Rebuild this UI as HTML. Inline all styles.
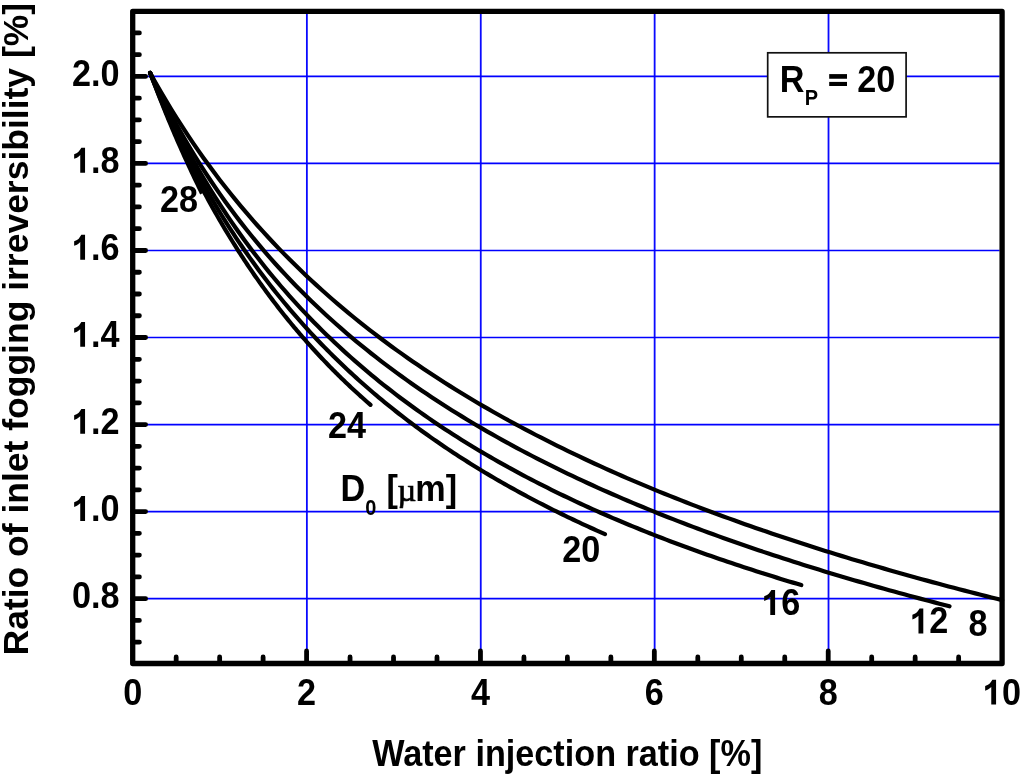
<!DOCTYPE html><html><head><meta charset="utf-8"><style>html,body{margin:0;padding:0;background:#fff;width:1024px;height:779px;overflow:hidden}svg{display:block;will-change:transform}text{font-family:"Liberation Sans",sans-serif;font-weight:bold;fill:#000}.h{fill-opacity:0}</style></head><body>
<svg width="1024" height="779" viewBox="0 0 1024 779">
<rect width="1024" height="779" fill="#fff"/>
<path d="M306.88 13.9V661.0M480.76 13.9V661.0M654.64 13.9V661.0M828.52 13.9V661.0" stroke="#0a0aff" stroke-width="1.8" fill="none"/>
<path d="M135.2 598.64H999.6M135.2 511.60H999.6M135.2 424.56H999.6M135.2 337.52H999.6M135.2 250.48H999.6M135.2 163.44H999.6M135.2 76.40H999.6" stroke="#0000ff" stroke-width="1.7" fill="none"/>
<path d="M150.09 72.92 155.45 82.52 160.81 91.85 166.16 100.92 171.52 109.75 176.88 118.35 182.24 126.73 187.60 134.89 192.96 142.85 198.32 150.62 203.67 158.20 209.03 165.60 214.39 172.83 219.75 179.90 225.11 186.80 230.47 193.56 235.83 200.17 241.18 206.64 246.54 212.97 251.90 219.17 257.26 225.25 262.62 231.21 267.98 237.04 273.34 242.77 278.69 248.38 284.05 253.89 289.41 259.30 294.77 264.61 300.13 269.82 305.49 274.94 310.84 279.96 316.20 284.90 321.56 289.76 326.92 294.53 332.28 299.23 337.64 303.84 343.00 308.38 348.35 312.85 353.71 317.25 359.07 321.58 364.43 325.84 369.79 330.03 375.15 334.16 380.51 338.23 385.86 342.24 391.22 346.19 396.58 350.08 401.94 353.91 407.30 357.69 412.66 361.42 418.02 365.10 423.37 368.72 428.73 372.30 434.09 375.83 439.45 379.31 444.81 382.74 450.17 386.13 455.53 389.48 460.88 392.78 466.24 396.04 471.60 399.26 476.96 402.44 482.32 405.58 487.68 408.68 493.04 411.74 498.39 414.77 503.75 417.76 509.11 420.72 514.47 423.64 519.83 426.52 525.19 429.38 530.55 432.20 535.90 434.99 541.26 437.74 546.62 440.47 551.98 443.17 557.34 445.84 562.70 448.47 568.06 451.08 573.41 453.67 578.77 456.22 584.13 458.75 589.49 461.25 594.85 463.73 600.21 466.18 605.57 468.60 610.92 471.00 616.28 473.38 621.64 475.73 627.00 478.06 632.36 480.37 637.72 482.65 643.08 484.91 648.43 487.16 653.79 489.37 659.15 491.57 664.51 493.75 669.87 495.91 675.23 498.04 680.59 500.16 685.94 502.26 691.30 504.34 696.66 506.40 702.02 508.44 707.38 510.47 712.74 512.47 718.10 514.46 723.45 516.43 728.81 518.38 734.17 520.32 739.53 522.24 744.89 524.15 750.25 526.03 755.61 527.91 760.96 529.76 766.32 531.60 771.68 533.43 777.04 535.24 782.40 537.04 787.76 538.82 793.12 540.59 798.47 542.34 803.83 544.08 809.19 545.81 814.55 547.52 819.91 549.22 825.27 550.90 830.63 552.58 835.98 554.24 841.34 555.88 846.70 557.52 852.06 559.14 857.42 560.75 862.78 562.35 868.14 563.94 873.49 565.51 878.85 567.07 884.21 568.63 889.57 570.17 894.93 571.70 900.29 573.21 905.65 574.72 911.00 576.22 916.36 577.71 921.72 579.18 927.08 580.65 932.44 582.10 937.80 583.55 943.16 584.98 948.51 586.41 953.87 587.83 959.23 589.23 964.59 590.63 969.95 592.02 975.31 593.40 980.67 594.76 986.02 596.13 991.38 597.48 996.74 598.82 1002.10 600.15" stroke="#000" stroke-width="4.2" fill="none" stroke-linecap="round" stroke-linejoin="round"/>
<path d="M150.09 72.92 155.12 83.44 160.14 93.62 165.17 103.48 170.20 113.04 175.23 122.30 180.25 131.29 185.28 140.03 190.31 148.51 195.34 156.76 200.37 164.79 205.39 172.61 210.42 180.22 215.45 187.64 220.48 194.87 225.50 201.93 230.53 208.82 235.56 215.54 240.59 222.11 245.62 228.54 250.64 234.81 255.67 240.95 260.70 246.96 265.73 252.84 270.75 258.60 275.78 264.24 280.81 269.76 285.84 275.17 290.87 280.48 295.89 285.69 300.92 290.80 305.95 295.81 310.98 300.73 316.00 305.56 321.03 310.30 326.06 314.96 331.09 319.53 336.11 324.03 341.14 328.45 346.17 332.80 351.20 337.08 356.23 341.28 361.25 345.42 366.28 349.49 371.31 353.50 376.34 357.44 381.36 361.33 386.39 365.15 391.42 368.92 396.45 372.63 401.48 376.29 406.50 379.89 411.53 383.45 416.56 386.95 421.59 390.40 426.61 393.81 431.64 397.16 436.67 400.48 441.70 403.75 446.73 406.97 451.75 410.15 456.78 413.29 461.81 416.39 466.84 419.45 471.86 422.48 476.89 425.46 481.92 428.41 486.95 431.32 491.98 434.19 497.00 437.03 502.03 439.84 507.06 442.61 512.09 445.35 517.11 448.06 522.14 450.74 527.17 453.39 532.20 456.01 537.23 458.59 542.25 461.15 547.28 463.69 552.31 466.19 557.34 468.66 562.36 471.11 567.39 473.54 572.42 475.94 577.45 478.31 582.48 480.66 587.50 482.98 592.53 485.28 597.56 487.56 602.59 489.81 607.61 492.04 612.64 494.25 617.67 496.44 622.70 498.61 627.72 500.75 632.75 502.88 637.78 504.98 642.81 507.06 647.84 509.13 652.86 511.17 657.89 513.20 662.92 515.21 667.95 517.20 672.97 519.17 678.00 521.12 683.03 523.06 688.06 524.98 693.09 526.88 698.11 528.77 703.14 530.63 708.17 532.49 713.20 534.32 718.22 536.15 723.25 537.95 728.28 539.74 733.31 541.52 738.34 543.28 743.36 545.02 748.39 546.76 753.42 548.47 758.45 550.18 763.47 551.87 768.50 553.54 773.53 555.21 778.56 556.86 783.59 558.50 788.61 560.12 793.64 561.73 798.67 563.33 803.70 564.92 808.72 566.49 813.75 568.06 818.78 569.61 823.81 571.15 828.84 572.68 833.86 574.19 838.89 575.70 843.92 577.19 848.95 578.68 853.97 580.15 859.00 581.61 864.03 583.06 869.06 584.51 874.08 585.94 879.11 587.36 884.14 588.77 889.17 590.17 894.20 591.56 899.22 592.95 904.25 594.32 909.28 595.68 914.31 597.04 919.33 598.38 924.36 599.72 929.39 601.05 934.42 602.37 939.45 603.68 944.47 604.98 949.50 606.27" stroke="#000" stroke-width="4.2" fill="none" stroke-linecap="round" stroke-linejoin="round"/>
<path d="M150.09 72.92 154.18 82.24 158.28 91.33 162.37 100.17 166.47 108.80 170.57 117.21 174.66 125.42 178.76 133.43 182.85 141.25 186.95 148.88 191.04 156.34 195.14 163.63 199.23 170.76 203.33 177.74 207.42 184.56 211.52 191.23 215.62 197.77 219.71 204.16 223.81 210.43 227.90 216.57 232.00 222.59 236.09 228.48 240.19 234.27 244.28 239.94 248.38 245.50 252.47 250.96 256.57 256.31 260.67 261.57 264.76 266.74 268.86 271.81 272.95 276.79 277.05 281.68 281.14 286.49 285.24 291.21 289.33 295.86 293.43 300.43 297.53 304.92 301.62 309.34 305.72 313.68 309.81 317.96 313.91 322.17 318.00 326.31 322.10 330.39 326.19 334.40 330.29 338.35 334.38 342.25 338.48 346.08 342.58 349.86 346.67 353.58 350.77 357.25 354.86 360.86 358.96 364.43 363.05 367.94 367.15 371.40 371.24 374.82 375.34 378.19 379.43 381.51 383.53 384.79 387.63 388.02 391.72 391.21 395.82 394.36 399.91 397.46 404.01 400.53 408.10 403.56 412.20 406.54 416.29 409.49 420.39 412.41 424.48 415.28 428.58 418.12 432.68 420.93 436.77 423.70 440.87 426.44 444.96 429.15 449.06 431.82 453.15 434.46 457.25 437.07 461.34 439.66 465.44 442.21 469.54 444.73 473.63 447.22 477.73 449.69 481.82 452.12 485.92 454.53 490.01 456.92 494.11 459.27 498.20 461.61 502.30 463.91 506.39 466.19 510.49 468.45 514.59 470.68 518.68 472.89 522.78 475.08 526.87 477.25 530.97 479.39 535.06 481.51 539.16 483.61 543.25 485.68 547.35 487.74 551.44 489.77 555.54 491.79 559.64 493.79 563.73 495.76 567.83 497.72 571.92 499.66 576.02 501.57 580.11 503.48 584.21 505.36 588.30 507.22 592.40 509.07 596.49 510.90 600.59 512.72 604.69 514.51 608.78 516.29 612.88 518.06 616.97 519.80 621.07 521.54 625.16 523.25 629.26 524.95 633.35 526.64 637.45 528.31 641.55 529.97 645.64 531.61 649.74 533.24 653.83 534.86 657.93 536.46 662.02 538.04 666.12 539.62 670.21 541.18 674.31 542.72 678.40 544.26 682.50 545.78 686.60 547.29 690.69 548.79 694.79 550.27 698.88 551.74 702.98 553.20 707.07 554.65 711.17 556.09 715.26 557.52 719.36 558.93 723.45 560.33 727.55 561.73 731.65 563.11 735.74 564.48 739.84 565.84 743.93 567.19 748.03 568.53 752.12 569.86 756.22 571.18 760.31 572.49 764.41 573.79 768.50 575.08 772.60 576.36 776.70 577.63 780.79 578.89 784.89 580.14 788.98 581.39 793.08 582.62 797.17 583.85 801.27 585.06" stroke="#000" stroke-width="4.2" fill="none" stroke-linecap="round" stroke-linejoin="round"/>
<path d="M150.09 72.92 152.95 79.87 155.81 86.70 158.67 93.40 161.53 99.98 164.39 106.44 167.25 112.78 170.11 119.02 172.97 125.15 175.84 131.17 178.70 137.08 181.56 142.90 184.42 148.63 187.28 154.25 190.14 159.79 193.00 165.23 195.86 170.59 198.72 175.86 201.58 181.05 204.44 186.16 207.30 191.19 210.17 196.15 213.03 201.02 215.89 205.83 218.75 210.56 221.61 215.23 224.47 219.82 227.33 224.35 230.19 228.81 233.05 233.21 235.91 237.55 238.77 241.83 241.63 246.04 244.49 250.20 247.36 254.30 250.22 258.35 253.08 262.34 255.94 266.28 258.80 270.17 261.66 274.01 264.52 277.79 267.38 281.53 270.24 285.22 273.10 288.86 275.96 292.45 278.82 296.01 281.69 299.51 284.55 302.98 287.41 306.40 290.27 309.78 293.13 313.11 295.99 316.41 298.85 319.67 301.71 322.89 304.57 326.08 307.43 329.22 310.29 332.33 313.15 335.40 316.02 338.44 318.88 341.45 321.74 344.42 324.60 347.35 327.46 350.26 330.32 353.13 333.18 355.97 336.04 358.78 338.90 361.56 341.76 364.31 344.62 367.03 347.48 369.72 350.35 372.38 353.21 375.02 356.07 377.63 358.93 380.21 361.79 382.76 364.65 385.29 367.51 387.79 370.37 390.27 373.23 392.72 376.09 395.15 378.95 397.55 381.81 399.93 384.68 402.28 387.54 404.62 390.40 406.93 393.26 409.22 396.12 411.48 398.98 413.73 401.84 415.95 404.70 418.15 407.56 420.34 410.42 422.50 413.28 424.64 416.14 426.76 419.00 428.87 421.87 430.95 424.73 433.01 427.59 435.06 430.45 437.09 433.31 439.10 436.17 441.09 439.03 443.06 441.89 445.02 444.75 446.96 447.61 448.88 450.47 450.79 453.33 452.68 456.20 454.55 459.06 456.41 461.92 458.25 464.78 460.08 467.64 461.89 470.50 463.69 473.36 465.47 476.22 467.23 479.08 468.99 481.94 470.72 484.80 472.45 487.66 474.16 490.53 475.85 493.39 477.54 496.25 479.21 499.11 480.86 501.97 482.50 504.83 484.13 507.69 485.75 510.55 487.36 513.41 488.95 516.27 490.53 519.13 492.10 521.99 493.65 524.86 495.19 527.72 496.73 530.58 498.25 533.44 499.76 536.30 501.25 539.16 502.74 542.02 504.22 544.88 505.68 547.74 507.14 550.60 508.58 553.46 510.01 556.32 511.43 559.18 512.85 562.05 514.25 564.91 515.64 567.77 517.02 570.63 518.40 573.49 519.76 576.35 521.11 579.21 522.45 582.07 523.79 584.93 525.11 587.79 526.43 590.65 527.74 593.51 529.03 596.38 530.32 599.24 531.60 602.10 532.88 604.96 534.14" stroke="#000" stroke-width="4.2" fill="none" stroke-linecap="round" stroke-linejoin="round"/>
<path d="M150.09 72.92 151.47 76.49 152.86 80.03 154.25 83.54 155.63 87.02 157.02 90.47 158.40 93.89 159.79 97.29 161.18 100.65 162.56 103.98 163.95 107.28 165.34 110.56 166.72 113.81 168.11 117.03 169.49 120.23 170.88 123.39 172.27 126.54 173.65 129.65 175.04 132.74 176.42 135.81 177.81 138.84 179.20 141.86 180.58 144.85 181.97 147.81 183.35 150.76 184.74 153.67 186.13 156.57 187.51 159.44 188.90 162.29 190.29 165.11 191.67 167.92 193.06 170.70 194.44 173.46 195.83 176.19 197.22 178.91 198.60 181.60 199.99 184.28 201.37 186.93 202.76 189.56 204.15 192.18 205.53 194.77 206.92 197.34 208.30 199.90 209.69 202.43 211.08 204.95 212.46 207.44 213.85 209.92 215.24 212.38 216.62 214.82 218.01 217.24 219.39 219.64 220.78 222.03 222.17 224.40 223.55 226.75 224.94 229.09 226.32 231.40 227.71 233.70 229.10 235.99 230.48 238.26 231.87 240.51 233.26 242.74 234.64 244.96 236.03 247.16 237.41 249.35 238.80 251.52 240.19 253.68 241.57 255.82 242.96 257.95 244.34 260.06 245.73 262.16 247.12 264.24 248.50 266.31 249.89 268.36 251.27 270.40 252.66 272.42 254.05 274.44 255.43 276.43 256.82 278.42 258.21 280.39 259.59 282.35 260.98 284.29 262.36 286.22 263.75 288.14 265.14 290.04 266.52 291.94 267.91 293.82 269.29 295.68 270.68 297.54 272.07 299.38 273.45 301.21 274.84 303.03 276.22 304.84 277.61 306.63 279.00 308.42 280.38 310.19 281.77 311.95 283.16 313.70 284.54 315.44 285.93 317.16 287.31 318.88 288.70 320.58 290.09 322.28 291.47 323.96 292.86 325.63 294.24 327.30 295.63 328.95 297.02 330.59 298.40 332.22 299.79 333.84 301.17 335.45 302.56 337.05 303.95 338.64 305.33 340.22 306.72 341.79 308.11 343.36 309.49 344.91 310.88 346.45 312.26 347.98 313.65 349.51 315.04 351.02 316.42 352.53 317.81 354.03 319.19 355.51 320.58 356.99 321.97 358.46 323.35 359.92 324.74 361.37 326.13 362.82 327.51 364.25 328.90 365.68 330.28 367.10 331.67 368.51 333.06 369.91 334.44 371.30 335.83 372.69 337.21 374.07 338.60 375.44 339.99 376.80 341.37 378.15 342.76 379.50 344.14 380.84 345.53 382.17 346.92 383.49 348.30 384.81 349.69 386.11 351.08 387.41 352.46 388.71 353.85 389.99 355.23 391.27 356.62 392.54 358.01 393.81 359.39 395.07 360.78 396.32 362.16 397.56 363.55 398.80 364.94 400.03 366.32 401.25 367.71 402.47 369.09 403.68 370.48 404.88" stroke="#000" stroke-width="4.2" fill="none" stroke-linecap="round" stroke-linejoin="round"/>
<path d="M150.23 72.60 151.37 75.70 152.51 78.80 153.66 81.90 154.82 85.00 156.00 88.10 157.18 91.20 158.37 94.30 159.58 97.40 160.79 100.50 162.02 103.60 163.25 106.70 164.50 109.80 165.75 112.90 167.02 116.00 168.29 119.10 169.58 122.20 170.88 125.30 172.18 128.40 173.50 131.50 174.83 134.60 176.17 137.70 177.51 140.80 178.87 143.90 180.24 147.00 181.62 150.10 183.01 153.20 184.41 156.30 185.82 159.40 187.24 162.50 188.67 165.60 190.11 168.70 191.56 171.80 193.03 174.90 194.50 178.00 195.98 181.10 197.47 184.20 198.97 187.30 200.49 190.40 202.01 193.50" stroke="#000" stroke-width="4.2" fill="none" stroke-linecap="butt" stroke-linejoin="round"/>
<path d="M176.17 663.5V657.00M219.64 663.5V657.00M263.11 663.5V657.00M306.58 663.5V651.00M350.05 663.5V657.00M393.52 663.5V657.00M436.99 663.5V657.00M480.46 663.5V651.00M523.93 663.5V657.00M567.40 663.5V657.00M610.87 663.5V657.00M654.34 663.5V651.00M697.81 663.5V657.00M741.28 663.5V657.00M784.75 663.5V657.00M828.22 663.5V651.00M871.69 663.5V657.00M915.16 663.5V657.00M958.63 663.5V657.00M132.7 642.16H139.40M132.7 620.40H139.40M132.7 598.64H145.60M132.7 576.88H139.40M132.7 555.12H139.40M132.7 533.36H139.40M132.7 511.60H145.60M132.7 489.84H139.40M132.7 468.08H139.40M132.7 446.32H139.40M132.7 424.56H145.60M132.7 402.80H139.40M132.7 381.04H139.40M132.7 359.28H139.40M132.7 337.52H145.60M132.7 315.76H139.40M132.7 294.00H139.40M132.7 272.24H139.40M132.7 250.48H145.60M132.7 228.72H139.40M132.7 206.96H139.40M132.7 185.20H139.40M132.7 163.44H145.60M132.7 141.68H139.40M132.7 119.92H139.40M132.7 98.16H139.40M132.7 76.40H145.60M132.7 54.64H139.40M132.7 32.88H139.40" stroke="#000" stroke-width="4.8" fill="none" stroke-linecap="round"/>
<rect x="132.7" y="11.4" width="869.40" height="652.10" stroke="#000" stroke-width="5.3" fill="none" stroke-linejoin="round"/>
<rect x="767.7" y="52.8" width="138.4" height="64.05" fill="#fff" stroke="#111" stroke-width="1.7"/>
<text transform="translate(72.06 607.94) scale(1 1.06)" font-size="34.2">0.8</text>
<text transform="translate(72.06 520.90) scale(1 1.06)" font-size="34.2"><tspan class="h">1</tspan>.0</text>
<text transform="translate(72.06 433.86) scale(1 1.06)" font-size="34.2"><tspan class="h">1</tspan>.2</text>
<text transform="translate(72.06 346.82) scale(1 1.06)" font-size="34.2"><tspan class="h">1</tspan>.4</text>
<text transform="translate(72.06 259.78) scale(1 1.06)" font-size="34.2"><tspan class="h">1</tspan>.6</text>
<text transform="translate(72.06 172.74) scale(1 1.06)" font-size="34.2"><tspan class="h">1</tspan>.8</text>
<text transform="translate(72.06 85.70) scale(1 1.06)" font-size="34.2">2.0</text>
<text transform="translate(123.19 704.60) scale(1 1.06)" font-size="34.2">0</text>
<text transform="translate(297.07 704.60) scale(1 1.06)" font-size="34.2">2</text>
<text transform="translate(470.95 704.60) scale(1 1.06)" font-size="34.2">4</text>
<text transform="translate(644.83 704.60) scale(1 1.06)" font-size="34.2">6</text>
<text transform="translate(818.71 704.60) scale(1 1.06)" font-size="34.2">8</text>
<text transform="translate(983.08 704.60) scale(1 1.06)" font-size="34.2"><tspan class="h">1</tspan>0</text>
<text transform="translate(372.20 765.80) scale(1.0 1.06)" font-size="34.2">Water injection ratio [%]</text>
<text transform="translate(28.2 655.5) rotate(-90) scale(1.038 1.035)" font-size="34.2">Ratio of inlet fogging irreversibility [%]</text>
<text transform="translate(160.10 211.70) scale(1 1.06)" font-size="34.2">28</text>
<text transform="translate(328.10 437.50) scale(1 1.06)" font-size="34.2">24</text>
<text transform="translate(562.20 561.80) scale(1 1.06)" font-size="34.2">20</text>
<text transform="translate(762.10 614.90) scale(1 1.06)" font-size="34.2"><tspan class="h">1</tspan>6</text>
<text transform="translate(910.30 633.40) scale(1 1.06)" font-size="34.2"><tspan class="h">1</tspan>2</text>
<text transform="translate(968.50 635.90) scale(1 1.06)" font-size="34.2">8</text>
<text transform="translate(340.40 501.30) scale(1.0 1.06)" font-size="34.2">D</text>
<text transform="translate(365.30 514.70) scale(1.0 1.06)" font-size="20">0</text>
<text transform="translate(386.40 501.30) scale(1.0 1.06)" font-size="34.2">[</text>
<text transform="translate(397.55 501.3)" font-size="32.5" stroke="#000" stroke-width="0.7" style="font-family:'Liberation Serif',serif;font-weight:normal">&#181;</text>
<text transform="translate(415.35 501.30) scale(1.0 1.06)" font-size="34.2">m]</text>
<text transform="translate(779.70 92.30) scale(1.0 1.06)" font-size="34.2">R</text>
<text transform="translate(804.80 105.40) scale(1.0 1.06)" font-size="20">P</text>
<text transform="translate(827.8 92.3) scale(1 1.06)" font-size="34.2"><tspan class="h">=</tspan> 20</text>
<g fill="#000"><path transform="translate(72.06 520.90) scale(0.016699 -0.017701)" d="M778 0L490 0L490 998L399 924L295 850L125 789L125 1047L295 1121L399 1195L477 1294L556 1409L778 1409Z"/><path transform="translate(72.06 433.86) scale(0.016699 -0.017701)" d="M778 0L490 0L490 998L399 924L295 850L125 789L125 1047L295 1121L399 1195L477 1294L556 1409L778 1409Z"/><path transform="translate(72.06 346.82) scale(0.016699 -0.017701)" d="M778 0L490 0L490 998L399 924L295 850L125 789L125 1047L295 1121L399 1195L477 1294L556 1409L778 1409Z"/><path transform="translate(72.06 259.78) scale(0.016699 -0.017701)" d="M778 0L490 0L490 998L399 924L295 850L125 789L125 1047L295 1121L399 1195L477 1294L556 1409L778 1409Z"/><path transform="translate(72.06 172.74) scale(0.016699 -0.017701)" d="M778 0L490 0L490 998L399 924L295 850L125 789L125 1047L295 1121L399 1195L477 1294L556 1409L778 1409Z"/><path transform="translate(983.08 704.60) scale(0.016699 -0.017701)" d="M778 0L490 0L490 998L399 924L295 850L125 789L125 1047L295 1121L399 1195L477 1294L556 1409L778 1409Z"/><path transform="translate(762.10 614.90) scale(0.016699 -0.017701)" d="M778 0L490 0L490 998L399 924L295 850L125 789L125 1047L295 1121L399 1195L477 1294L556 1409L778 1409Z"/><path transform="translate(910.30 633.40) scale(0.016699 -0.017701)" d="M778 0L490 0L490 998L399 924L295 850L125 789L125 1047L295 1121L399 1195L477 1294L556 1409L778 1409Z"/><rect x="829.2" y="74.1" width="17.8" height="4.65"/><rect x="829.2" y="81.9" width="17.8" height="4.1"/></g>
</svg></body></html>
